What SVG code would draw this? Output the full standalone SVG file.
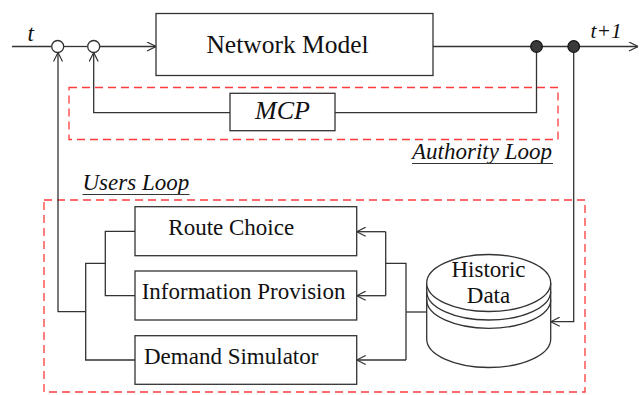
<svg xmlns="http://www.w3.org/2000/svg" width="643" height="395" viewBox="0 0 643 395">
  <style>
    .ln { fill: none; stroke: #333; stroke-width: 1.3; }
    .box { fill: #fff; stroke: #333; stroke-width: 1.3; }
    .dash { fill: none; stroke: #ff3b3b; stroke-width: 1.3; stroke-dasharray: 8 5; }
    .txt { font-family: "Liberation Serif", "Times New Roman", serif; fill: #111; }
    .it { font-style: italic; }
    .sum { fill: #fff; stroke: #333; stroke-width: 1.3; }
    .tap { fill: #3a3a3a; stroke: #111; stroke-width: 1.2; }
  </style>
  <defs>
    <marker id="arr" viewBox="0 0 10 10" refX="10" refY="5" markerWidth="10" markerHeight="10" markerUnits="userSpaceOnUse" orient="auto">
      <path d="M1,0.5 L10,5 L1,9.5" fill="none" stroke="#333" stroke-width="1.2"/>
    </marker>
  </defs>

  <!-- loop frames -->
  <g id="authority-loop">
    <rect class="dash" x="69" y="87.5" width="489" height="52"/>
    <text class="txt it" x="412" y="159" font-size="23">Authority Loop</text>
    <line x1="412" y1="163.5" x2="553" y2="163.5" stroke="#333" stroke-width="1.2"/>
  </g>
  <g id="users-loop">
    <rect class="dash" x="44" y="200" width="541" height="192"/>
    <text class="txt it" x="82.5" y="190" font-size="23">Users Loop</text>
    <line x1="82.5" y1="194.5" x2="189.5" y2="194.5" stroke="#333" stroke-width="1.2"/>
  </g>

  <!-- connectors -->
  <g id="connectors">
    <!-- main signal path -->
    <line class="ln" x1="12" y1="46.5" x2="51.7" y2="46.5"/>
    <line class="ln" x1="63.7" y1="46.5" x2="87.7" y2="46.5"/>
    <path class="ln" d="M99.7,46.5 H156" marker-end="url(#arr)"/>
    <path class="ln" d="M433,46.5 H638" marker-end="url(#arr)"/>
    <!-- authority feedback through MCP -->
    <path class="ln" d="M536.5,46.5 V112.7 H335"/>
    <path class="ln" d="M230,112.7 H93.7 V52.5" marker-end="url(#arr)"/>
    <!-- users feedback -->
    <path class="ln" d="M85.7,311.7 H58 V52.5" marker-end="url(#arr)"/>
    <path class="ln" d="M135,231.3 H105.3 V295.7 H135"/>
    <path class="ln" d="M105.3,263.3 H85.7 V360 H135"/>
    <!-- historic data outputs -->
    <path class="ln" d="M385.7,231.7 H356.7" marker-end="url(#arr)"/>
    <path class="ln" d="M385.7,295.7 H356.7" marker-end="url(#arr)"/>
    <path class="ln" d="M385.7,231.7 V295.7"/>
    <path class="ln" d="M385.7,263.3 H406 V360"/>
    <path class="ln" d="M406,360 H356.7" marker-end="url(#arr)"/>
    <path class="ln" d="M406,312 H426.7"/>
    <!-- measurement to historic data -->
    <path class="ln" d="M573.7,46.5 V321.7 H550.7" marker-end="url(#arr)"/>
  </g>

  <!-- summing junctions and take-off points -->
  <g id="sum-1"><circle class="sum" cx="57.7" cy="46.5" r="6"/></g>
  <g id="sum-2"><circle class="sum" cx="93.7" cy="46.5" r="6"/></g>
  <g id="tap-1"><circle class="tap" cx="536.5" cy="46.5" r="5.8"/></g>
  <g id="tap-2"><circle class="tap" cx="573.7" cy="46.5" r="5.8"/></g>

  <g id="label-t">
    <text class="txt it" x="27.5" y="40.5" font-size="23">t</text>
  </g>
  <g id="label-t1">
    <text class="txt it" x="590.5" y="37.5" font-size="21.5">t+1</text>
  </g>

  <g id="network-model">
    <rect class="box" x="156" y="13.5" width="277" height="62"/>
    <text class="txt" x="287.5" y="53.3" font-size="25.5" text-anchor="middle">Network Model</text>
  </g>

  <g id="mcp">
    <rect class="box" x="230" y="93.3" width="105" height="37.4"/>
    <text class="txt it" x="282.5" y="119" font-size="26" text-anchor="middle">MCP</text>
  </g>

  <g id="route-choice">
    <rect class="box" x="135" y="206.7" width="221.7" height="49"/>
    <text class="txt" x="168.3" y="235" font-size="23">Route Choice</text>
  </g>

  <g id="information-provision">
    <rect class="box" x="135" y="271" width="221.7" height="49"/>
    <text class="txt" x="141.7" y="299.3" font-size="23">Information Provision</text>
  </g>

  <g id="demand-simulator">
    <rect class="box" x="135" y="335.7" width="221.7" height="48.6"/>
    <text class="txt" x="144" y="364.3" font-size="23">Demand Simulator</text>
  </g>

  <g id="historic-data">
    <path class="box" d="M426.7,283 V339 A62,28.5 0 0 0 550.7,339 V283"/>
    <path class="ln" d="M426.7,291.5 A62,28.5 0 0 0 550.7,291.5"/>
    <path class="ln" d="M426.7,299.8 A62,28.5 0 0 0 550.7,299.8"/>
    <ellipse class="box" cx="488.7" cy="283" rx="62" ry="28.5"/>
    <text class="txt" x="488.5" y="277" font-size="23" text-anchor="middle">Historic</text>
    <text class="txt" x="488.5" y="303" font-size="23" text-anchor="middle">Data</text>
  </g>
</svg>
